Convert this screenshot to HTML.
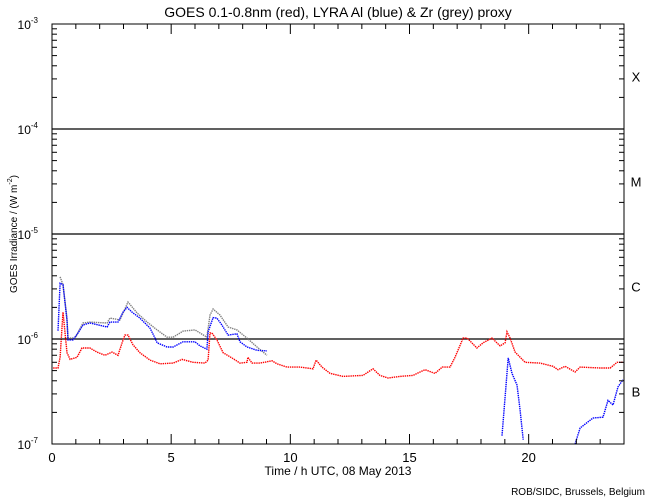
<!DOCTYPE html>
<html><head><meta charset="utf-8"><style>
body{margin:0;background:#fff}
svg{display:block;font-family:"Liberation Sans",sans-serif}
</style></head><body>
<svg id="chart" width="650" height="500" viewBox="0 0 650 500" xmlns="http://www.w3.org/2000/svg">
<rect width="650" height="500" fill="#fff"/>
<text x="338" y="17" font-size="14" text-anchor="middle">GOES 0.1-0.8nm (red), LYRA Al (blue) &amp; Zr (grey) proxy</text>
<text x="338" y="475" font-size="12" text-anchor="middle">Time / h UTC, 08 May 2013</text>
<text transform="translate(17,234) rotate(-90)" font-size="10" text-anchor="middle">GOES Irradiance / (W m<tspan font-size="7" dy="-5">-2</tspan><tspan dy="5">)</tspan></text>
<text x="645" y="495" font-size="10" text-anchor="end">ROB/SIDC, Brussels, Belgium</text>
<g id="grid"></g><g id="series"></g><g id="axes"></g>
</svg>
<script>
const xTicks=[0,5,10,15,20];
const yDecades=[-7,-6,-5,-4,-3];
const classLetters=["B","C","M","X"];
const redT=[0.05,0.25,0.34,0.46,0.63,0.76,1.05,1.26,1.59,1.89,2.22,2.52,2.77,2.94,3.06,3.19,3.40,3.69,4.11,4.53,5.08,5.46,5.92,6.42,6.55,6.63,6.71,6.92,7.18,7.55,7.89,8.18,8.22,8.39,8.73,9.23,9.44,9.86,10.41,10.95,11.08,11.33,11.67,12.21,13.05,13.47,13.76,14.10,14.60,15.15,15.32,15.65,16.07,16.37,16.70,16.91,17.25,17.42,17.83,18.09,18.46,18.80,19.01,19.09,19.22,19.43,19.85,20.48,21.02,21.23,21.53,21.95,22.16,23.0,23.42,23.71,23.96];
const redV=[5.3e-7,5.3e-7,6.7e-7,1.8e-6,7.4e-7,6.4e-7,6.7e-7,8.2e-7,8.2e-7,7.5e-7,7.0e-7,7.5e-7,7.0e-7,9.2e-7,1.09e-6,1.09e-6,8.8e-7,7.4e-7,6.3e-7,5.8e-7,5.9e-7,6.4e-7,6.0e-7,5.9e-7,6.3e-7,1.14e-6,1.14e-6,9.8e-7,7.4e-7,6.6e-7,5.9e-7,6.0e-7,6.7e-7,5.9e-7,5.9e-7,6.2e-7,5.8e-7,5.4e-7,5.4e-7,5.2e-7,6.3e-7,5.4e-7,4.7e-7,4.4e-7,4.5e-7,5.2e-7,4.5e-7,4.25e-7,4.4e-7,4.5e-7,4.7e-7,5.1e-7,4.7e-7,5.4e-7,5.4e-7,6.7e-7,1.02e-6,1.02e-6,8.2e-7,9.2e-7,1.02e-6,8.6e-7,9.2e-7,1.17e-6,1.02e-6,7.5e-7,6.0e-7,5.9e-7,5.5e-7,5.1e-7,5.5e-7,4.85e-7,5.4e-7,5.3e-7,5.3e-7,6.0e-7,6.0e-7];
const greyT=[0.34,0.46,0.63,0.67,0.97,1.30,1.59,2.31,2.43,2.85,3.19,3.57,3.99,4.41,4.83,5.08,5.50,6.0,6.50,6.63,6.76,7.05,7.39,7.76,8.18,8.60,9.02];
const greyV=[3.9e-6,3.3e-6,1.58e-6,1.02e-6,1.02e-6,1.42e-6,1.45e-6,1.42e-6,1.58e-6,1.52e-6,2.25e-6,1.77e-6,1.45e-6,1.22e-6,1.04e-6,1.04e-6,1.19e-6,1.22e-6,1.04e-6,1.69e-6,1.93e-6,1.69e-6,1.3e-6,1.22e-6,1.02e-6,8.4e-7,7.0e-7];
const blueT=[0.25,0.34,0.46,0.63,0.67,0.88,1.09,1.30,1.59,2.31,2.43,2.77,2.98,3.15,3.36,3.69,4.11,4.32,4.41,4.83,5.08,5.50,6.0,6.21,6.50,6.55,6.76,6.92,7.13,7.39,7.76,7.89,8.18,8.60,9.02];
const blueV=[1.2e-6,3.4e-6,3.3e-6,1.5e-6,9.8e-7,9.8e-7,1.14e-6,1.36e-6,1.42e-6,1.3e-6,1.45e-6,1.45e-6,1.8e-6,2.0e-6,1.8e-6,1.58e-6,1.27e-6,1.02e-6,9.2e-7,8.4e-7,8.4e-7,9.4e-7,9.4e-7,8.6e-7,8.0e-7,1.17e-6,1.6e-6,1.58e-6,1.36e-6,1.09e-6,1.12e-6,9.4e-7,8.4e-7,7.8e-7,7.7e-7];
const blue2T=[18.88,19.01,19.14,19.30,19.51,19.64,19.77];
const blue2V=[1.2e-7,2.8e-7,6.6e-7,4.7e-7,3.65e-7,2.1e-7,1.1e-7];
const blue3T=[21.95,22.16,22.70,23.12,23.33,23.54,23.75,23.96];
const blue3V=[1.0e-7,1.42e-7,1.77e-7,1.8e-7,2.6e-7,2.35e-7,3.5e-7,4.1e-7];

const NS="http://www.w3.org/2000/svg";
const L=52,R=624,T=24,B=444;
const xs=h=>L+(R-L)*h/24;
const ys=v=>B-(B-T)*(Math.log10(v)+7)/4;
function mk(tag,attrs,parent){const e=document.createElementNS(NS,tag);for(const k in attrs)e.setAttribute(k,attrs[k]);parent.appendChild(e);return e;}
const grid=document.getElementById('grid'),ser=document.getElementById('series'),axes=document.getElementById('axes');
[-6,-5,-4].forEach(d=>{
  const y=ys(Math.pow(10,d));
  const ln=mk('line',{x1:L,x2:R,y1:y,y2:y,stroke:'#000','stroke-width':1.2},grid);
  
  
});
classLetters.forEach((c,i)=>{
  const y=ys(Math.pow(10,-6.5+i));
  const t=mk('text',{x:636,y:y+5,'font-size':13,'text-anchor':'middle'},grid);
  t.textContent=c;
  
  
});
function series(Tt,V,color,name){
  const pts=Tt.map((t,i)=>xs(t).toFixed(1)+','+ys(V[i]).toFixed(1)).join(' ');
  const p=mk('polyline',{points:pts,fill:'none',stroke:color,'stroke-width':1.4,'stroke-dasharray':'1.4 0.8'},ser);
  
  
}
series(greyT,greyV,'#808080','zr-grey-series');
series(blueT,blueV,'#0000ff','al-blue-series');
series(blue2T,blue2V,'#0000ff','al-blue-series-late-1');
series(blue3T,blue3V,'#0000ff','al-blue-series-late-2');
series(redT,redV,'#ff0000','goes-red-series');
const fr=mk('rect',{x:L,y:T,width:R-L,height:B-T,fill:'none',stroke:'#000','stroke-width':1},axes);


for(let h=0;h<=24;h++){
  const x=xs(h),len=(h%5===0)?10:5;
  mk('line',{x1:x,x2:x,y1:B,y2:B-len,stroke:'#000'},axes);
  mk('line',{x1:x,x2:x,y1:T,y2:T+len,stroke:'#000'},axes);
}
xTicks.forEach(h=>{
  const t=mk('text',{x:xs(h),y:462,'font-size':13,'text-anchor':'middle'},axes);
  t.textContent=h;
  
  
});
yDecades.forEach(d=>{
  const y=ys(Math.pow(10,d));
  mk('line',{x1:L,x2:L+10,y1:y,y2:y,stroke:'#000'},axes);
  mk('line',{x1:R,x2:R-10,y1:y,y2:y,stroke:'#000'},axes);
  if(d<-3){for(let m=2;m<=9;m++){const yy=ys(m*Math.pow(10,d));
    mk('line',{x1:L,x2:L+5,y1:yy,y2:yy,stroke:'#000'},axes);
    mk('line',{x1:R,x2:R-5,y1:yy,y2:yy,stroke:'#000'},axes);}}
  const t=mk('text',{x:38,y:y+5,'font-size':12,'text-anchor':'end'},axes);
  t.textContent='10';
  const s=mk('tspan',{'font-size':8,dy:-6},t);
  s.textContent=String(d);
  
  
});
</script>
</body></html>
